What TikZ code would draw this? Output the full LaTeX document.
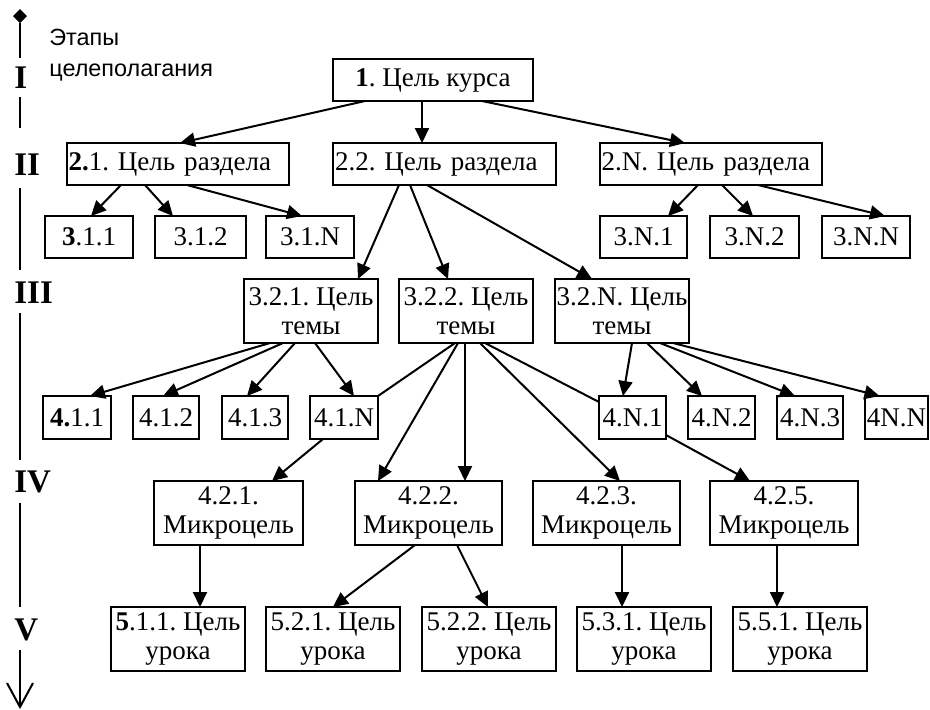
\documentclass[tikz,border=0pt]{standalone}
\usepackage{fontspec}
\setmainfont{Liberation Serif}
\newfontfamily\stagesans{Liberation Sans}
\usetikzlibrary{arrows.meta,calc}
\frenchspacing
\tikzset{
	goal/.style={draw,line width=1pt,inner sep=0pt,outer sep=0pt,align=center,font=\fontsize{13.5}{14.5}\selectfont},
	arr/.style={line width=1pt,-{Triangle[length=7.5pt,width=7pt]}},
	link/.style={line width=1pt},
	stage/.style={anchor=west,inner sep=0pt,font=\fontsize{16.5}{16.5}\selectfont\bfseries}
}
\begin{document}
\begin{tikzpicture}[x=0.5pt,y=-0.5pt]
		\def\u{0.5pt}
		\useasboundingbox (0,0) rectangle (930,709);
		\draw[line width=1pt] (20,23)--(20,58) (20,97)--(20,128) (20,188)--(20,270) (20,313)--(20,460) (20,503)--(20,607) (20,650)--(20,707);
		\fill (20,9)--(27,16)--(20,23)--(13,16)--cycle;
		\draw[line width=1pt] (7,683)--(20,707)--(33,683);
		\foreach \s/\y in {I/77.5,II/165,III/292.5,IV/481.5,V/630} \node[stage] (st\s) at (14,\y) {\s};
		\node[anchor=north west,inner sep=0pt,align=left,font=\stagesans\fontsize{11.7}{15.5}\selectfont] (title) at (49,29) {Этапы\\целеполагания};
		\node[goal,minimum width={200*\u},minimum height=21pt] (b1) at (433,80) {\textbf{1}. Цель курса};
		\foreach \n/\xa/\xb/\t in {b21/67/289/{\textbf{2.}1. Цель раздела},b22/333/556/2.2. Цель раздела,b2N/600/822/2.N. Цель раздела}
			\node[goal,align=left,text width=109.5pt,inner xsep=0.5pt,minimum width={(\xb-\xa)*\u},minimum height=21pt] (\n) at ({(\xa+\xb)/2},164) {\t};
		\foreach \n/\xa/\xb/\t in {b311/45/133/{\textbf{3}.1.1},b312/155/246/3.1.2,b31N/266/354/3.1.N,b3N1/600/687/3.N.1,b3N2/710/799/3.N.2,b3NN/822/910/3.N.N}
			\node[goal,minimum width={(\xb-\xa)*\u},minimum height=21pt] (\n) at ({(\xa+\xb)/2},237) {\t};
		\foreach \n/\xa/\xb/\t in {b321/244/378/3.2.1. Цель\\темы,b322/399/533/3.2.2. Цель\\темы,b32N/555/689/3.2.N. Цель\\темы}
			\node[goal,minimum width={(\xb-\xa)*\u},minimum height=32pt] (\n) at ({(\xa+\xb)/2},311) {\t};
		\foreach \n/\xa/\xb/\t in {b411/43/111/{\textbf{4.}1.1},b412/133/199/4.1.2,b413/222/288/4.1.3,b41N/310/378/4.1.N,b4N1/599/666/4.N.1,b4N2/688/755/4.N.2,b4N3/777/843/4.N.3,b4NN/865/928/4N.N}
			\node[goal,minimum width={(\xb-\xa)*\u},minimum height=21.5pt] (\n) at ({(\xa+\xb)/2},417.5) {\t};
		\foreach \n/\xa/\xb/\t in {b421/154/303/4.2.1.\\Микроцель,b422/355/502/4.2.2.\\Микроцель,b423/533/680/4.2.3.\\Микроцель,b425/710/858/4.2.5.\\Микроцель}
			\node[goal,minimum width={(\xb-\xa)*\u},minimum height=32pt] (\n) at ({(\xa+\xb)/2},513) {\t};
		\foreach \n/\xa/\xb/\t in {b511/111/245/{\textbf{5}.1.1. Цель\\урока},b521/266/400/5.2.1. Цель\\урока,b522/422/556/5.2.2. Цель\\урока,b531/577/711/5.3.1. Цель\\урока,b551/733/867/5.5.1. Цель\\урока}
			\node[goal,minimum width={(\xb-\xa)*\u},minimum height=32pt] (\n) at ({(\xa+\xb)/2},639) {\t};
		\foreach \a/\da/\b/\db in {b1/-68/b21/2,b1/-11/b22/-22.5,b1/49/b2N/-26,
			b21/-57/b311/2,b21/-33/b312/-27.5,b21/9/b31N/-8,
			b22/-45.5/b321/47,b22/-34.5/b322/-18,b22/-17.5/b32N/-30,
			b2N/-13/b3N1/24.5,b2N/11/b3N2/-1.5,b2N/47/b3NN/19,
			b321/-41/b411/13,b321/-28/b412/-3,b321/-16/b413/-8,b321/4/b41N/10,
			b322/-8/b422/-50.5,b322/-1/b422/36.5,b322/14/b423/13.5,
			b32N/10/b4N1/-9.5,b32N/25/b4N2/-19.5,b32N/38/b4N3/-15,b32N/51/b4NN/-17,
			b41N/-21/b421/43.5,
			b421/-28.5/b511/22,b422/-13.5/b521/0,b422/28.5/b522/-1,b423/15.5/b531/-22,b425/-7/b551/-23}
			\draw[arr] ($(\a.south)+(\da,0)$)--($(\b.north)+(\db,0)$);
		\draw[arr] ($(b4N1.south east)+(0,-4)$)--($(b425.north)+(-34,0)$);
		\draw[link] ($(b322.south)+(-11,0)$)--(b41N.north east);
		\draw[link] ($(b322.south)+(19,0)$)--($(b4N1.north west)+(0,6)$);
	\end{tikzpicture}
\end{document}
